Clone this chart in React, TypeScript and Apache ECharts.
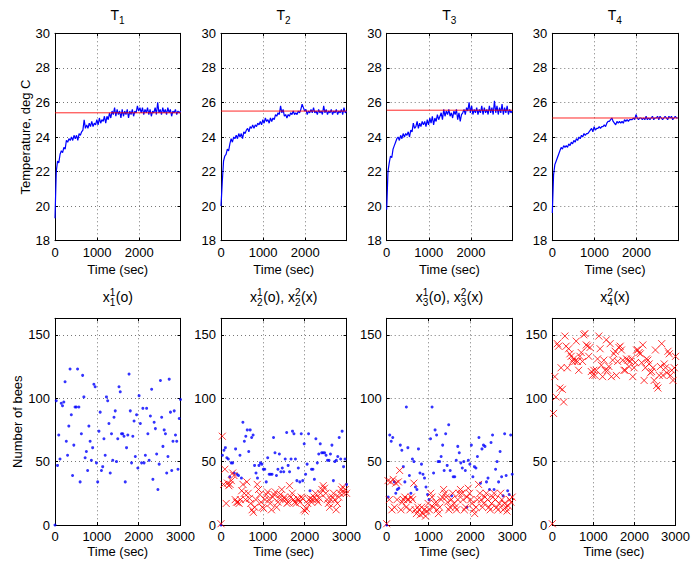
import React, { useEffect, useRef } from 'react';
import * as echarts from 'echarts';

const FONT = "'Liberation Sans', Arial, Helvetica, sans-serif";

// ---------- axes ----------
const TEMP_X_MAX = 2980;
const TEMP_Y_MIN = 18;
const TEMP_Y_MAX = 30;
const TEMP_Y_STEP = 2;
const BEES_X_MAX = 3000;
const BEES_Y_MAX = 163;
const BEES_Y_STEP = 50;
const X_STEP = 1000;

const X_NAME = 'Time (sec)';
const TEMP_Y_NAME = 'Temperature, deg C';
const BEES_Y_NAME = 'Number of bees';

// ---------- temperature (top row), samples evenly spaced over [0, TEMP_X_MAX] ----------
const SETPOINTS = [25.4, 25.5, 25.55, 25.1];

const T1 = [
  19.3, 22.0, 22.6, 22.5, 23.0, 23.2, 23.1, 23.4, 23.3, 23.8,
  23.7, 23.9, 23.8, 24.0, 23.8, 24.1, 23.9, 24.1, 23.8, 24.2,
  24.1, 24.3, 24.4, 25.0, 24.5, 24.7, 24.5, 24.8, 24.6, 24.9,
  24.6, 24.8, 24.7, 25.0, 24.7, 25.1, 24.8, 25.0, 24.9, 25.2,
  24.8, 25.2, 25.0, 25.4, 25.1, 25.5, 25.3, 25.7, 25.2, 25.6,
  25.3, 25.5, 25.1, 25.6, 25.2, 25.5, 25.3, 25.6, 25.1, 25.5,
  25.3, 25.6, 25.2, 25.5, 25.4, 25.8, 25.5, 25.7, 25.4, 25.7,
  25.3, 25.6, 25.4, 25.7, 25.3, 25.6, 25.2, 25.5, 25.4, 25.7,
  25.3, 26.0, 25.4, 25.6, 25.3, 25.7, 25.4, 25.6, 25.3, 25.7,
  25.4, 25.6, 25.2, 25.5, 25.4, 25.6, 25.3, 25.5, 25.4, 25.5,
];
const T2 = [
  20.0, 21.4, 22.6, 22.9, 23.0, 23.3, 23.2, 23.6, 23.9, 23.7,
  24.0, 23.9, 24.1, 23.9, 24.2, 24.0, 24.2, 23.9, 24.3, 24.2,
  24.4, 24.5, 24.3, 24.6, 24.5, 24.7, 24.5, 24.7, 24.6, 24.8,
  24.7, 24.9, 24.7, 25.0, 24.8, 25.1, 24.9, 25.0, 24.8, 25.1,
  24.9, 25.1, 25.0, 25.3, 25.2, 25.4, 25.3, 25.8, 25.4, 25.6,
  25.2, 25.3, 25.1, 25.3, 25.2, 25.4, 25.3, 25.5, 25.3, 25.4,
  25.3, 25.5, 25.4, 25.6, 25.9, 25.7, 25.5, 25.6, 25.3, 25.5,
  25.4, 25.6, 25.4, 25.7, 25.4, 25.5, 25.3, 25.6, 25.4, 25.5,
  25.3, 25.8, 25.4, 25.6, 25.3, 25.5, 25.4, 25.6, 25.3, 25.5,
  25.4, 25.6, 25.3, 25.5, 25.4, 25.6, 25.3, 25.7, 25.4, 25.5,
];
const T3 = [
  19.8, 22.0, 22.5, 22.9, 22.8, 23.3, 23.5, 23.7, 23.9, 24.0,
  23.8, 24.1, 23.9, 24.2, 24.0, 24.2, 24.1, 24.3, 24.0, 24.4,
  24.3, 24.8, 24.5, 24.6, 24.9, 24.5, 24.8, 24.6, 24.9, 24.7,
  24.9, 24.6, 25.0, 24.7, 25.1, 24.8, 25.2, 24.7, 25.1, 24.9,
  25.3, 25.0, 25.2, 25.4, 25.0, 25.6, 25.2, 25.5, 25.3, 25.6,
  25.2, 25.4, 25.1, 25.5, 25.3, 25.6, 25.0, 25.4, 24.9, 25.3,
  25.4, 25.6, 25.3, 25.7, 25.5, 26.0, 25.4, 25.8, 25.3, 25.6,
  25.4, 25.7, 25.3, 25.6, 25.4, 25.8, 25.3, 25.7, 25.4, 25.6,
  25.3, 25.8, 25.4, 25.7, 25.3, 26.1, 25.4, 25.8, 25.3, 25.7,
  25.4, 25.9, 25.3, 25.7, 25.4, 25.8, 25.3, 25.6, 25.4, 25.5,
];
const T4 = [
  19.6, 21.8, 22.4, 22.6, 22.8, 23.0, 23.2, 23.4, 23.3, 23.5,
  23.4, 23.5, 23.4, 23.6, 23.5, 23.7, 23.6, 23.8, 23.7, 23.9,
  23.8, 24.0, 23.9, 24.1, 24.0, 24.2, 24.1, 24.2, 24.2, 24.3,
  24.4, 24.5, 24.3, 24.6, 24.4, 24.5, 24.5, 24.6, 24.5, 24.6,
  24.6, 24.7, 24.6, 24.8, 24.9, 24.9, 25.0, 25.1, 24.9, 24.8,
  24.7, 24.9, 24.8, 24.9, 24.8, 24.9, 24.8, 25.0, 24.9, 25.0,
  24.9, 25.0, 25.0, 25.0, 25.1, 25.0, 25.3, 25.1, 25.0, 25.1,
  25.1, 25.0, 25.1, 25.0, 25.2, 25.0, 25.1, 25.0, 25.1, 25.2,
  25.0, 25.1, 25.1, 25.2, 25.0, 25.2, 25.1, 25.0, 25.1, 25.2,
  25.1, 25.0, 25.2, 25.1, 25.2, 25.0, 25.1, 25.2, 25.1, 25.1,
];

// ---------- bee counts (bottom row), samples evenly spaced over [0, BEES_X_MAX] ----------
// x_k^1 : blue dots (o), x_k^2 : red crosses (x)
const X1_1 = [
  0, 98, 47, 71, 52, 96, 94, 97, 113, 66,
  55, 78, 123, 87, 39, 63, 93, 93, 123, 93,
  34, 72, 118, 101, 53, 58, 43, 78, 66, 51,
  61, 111, 109, 49, 34, 74, 89, 43, 46, 68,
  55, 101, 98, 80, 41, 72, 51, 85, 90, 50,
  68, 109, 105, 72, 72, 70, 34, 61, 71, 119,
  90, 49, 70, 82, 54, 87, 45, 102, 80, 49,
  92, 49, 55, 92, 72, 51, 86, 107, 36, 81,
  76, 56, 28, 48, 114, 85, 62, 75, 72, 41,
  54, 115, 89, 43, 66, 90, 71, 66, 44, 84, 99,
];
const X2_1 = [
  0, 55, 59, 61, 53, 52, 38, 49, 49, 41,
  60, 40, 39, 55, 37, 81, 66, 70, 75, 58,
  75, 69, 71, 47, 41, 37, 47, 49, 48, 44,
  44, 34, 53, 40, 40, 40, 69, 57, 39, 44,
  56, 42, 45, 42, 52, 73, 47, 42, 52, 74,
  72, 52, 35, 45, 34, 72, 35, 64, 40, 48,
  72, 27, 44, 44, 36, 68, 49, 56, 64, 57,
  57, 57, 55, 51, 51, 56, 63, 35, 50, 51,
  54, 69, 52, 74, 46, 52, 32,
];
const X2_2 = [
  1, 70, 32, 44, 17, 33, 31, 32, 35, 41,
  39, 20, 18, 18, 17, 20, 27, 32, 25, 20,
  34, 25, 21, 17, 12, 10, 14, 20, 32, 28,
  24, 18, 14, 13, 20, 24, 26, 20, 17, 12,
  22, 24, 26, 14, 18, 21, 24, 28, 20, 22,
  20, 17, 18, 31, 22, 25, 20, 18, 17, 21,
  20, 18, 22, 21, 12, 11, 13, 17, 20, 21,
  18, 20, 22, 25, 20, 18, 21, 25, 28, 31,
  29, 25, 20, 17, 14, 20, 22, 25, 20, 12,
  17, 22, 25, 28, 30, 25, 28, 25,
];
const X3_1 = [
  0, 22, 71, 66, 69, 34, 25, 28, 29, 63,
  59, 46, 34, 93, 61, 39, 25, 52, 50, 30,
  28, 60, 41, 48, 40, 37, 30, 24, 20, 68,
  93, 41, 75, 71, 50, 50, 54, 63, 43, 72,
  47, 79, 43, 23, 38, 38, 51, 62, 57, 49,
  45, 50, 43, 14, 51, 48, 63, 38, 46, 45,
  54, 69, 33, 60, 63, 62, 34, 37, 28, 65,
  71, 28, 44, 50, 34, 58, 38, 23, 72, 39,
  27, 24, 71, 40,
];
const X3_2 = [
  1, 35, 20, 34, 12, 36, 14, 33, 20, 34,
  43, 12, 18, 20, 22, 14, 20, 20, 12, 22,
  20, 33, 12, 9, 14, 12, 8, 14, 9, 12,
  7, 11, 17, 12, 25, 22, 14, 17, 18, 12,
  9, 14, 20, 22, 28, 25, 22, 18, 12, 14,
  20, 25, 17, 14, 12, 20, 25, 28, 25, 20,
  12, 14, 22, 29, 25, 20, 17, 12, 9, 14,
  20, 32, 25, 20, 14, 17, 22, 25, 20, 14,
  12, 17, 22, 25, 20, 14, 12, 17, 25, 20,
  12, 17, 14, 11, 15, 20, 18, 22,
];
const X4_2 = [
  1, 88, 117, 101, 143, 141, 108, 124, 107, 97,
  149, 141, 124, 139, 135, 133, 129, 131, 129, 145,
  129, 122, 133, 136, 129, 150, 151, 142, 141, 133,
  140, 121, 118, 122, 118, 122, 131, 149, 139, 126,
  117, 130, 122, 146, 122, 125, 143, 117, 130, 135,
  137, 118, 129, 140, 141, 138, 130, 122, 122, 131,
  130, 125, 129, 131, 117, 124, 128, 138, 138, 136,
  135, 128, 142, 114, 124, 131, 130, 127, 120, 121,
  124, 114, 138, 110, 108, 118, 125, 143, 118, 127,
  124, 120, 137, 135, 118, 122, 114, 124, 133,
];

// ---------- titles ----------
type Tok = { main?: string; sup?: string; sub?: string };
const TOP_TITLES: Tok[][] = [
  [{ main: 'T' }, { sub: '1' }],
  [{ main: 'T' }, { sub: '2' }],
  [{ main: 'T' }, { sub: '3' }],
  [{ main: 'T' }, { sub: '4' }],
];
const BOTTOM_TITLES: Tok[][] = [
  [{ main: 'x' }, { sup: '1', sub: '1' }, { main: '(o)' }],
  [{ main: 'x' }, { sup: '1', sub: '2' }, { main: '(o), x' }, { sup: '2', sub: '2' }, { main: '(x)' }],
  [{ main: 'x' }, { sup: '1', sub: '3' }, { main: '(o), x' }, { sup: '2', sub: '3' }, { main: '(x)' }],
  [{ main: 'x' }, { sup: '2', sub: '4' }, { main: '(x)' }],
];

// ---------- layout ----------
const LEFTS = [55, 221, 386.7, 552.3];
const PLOT_W = 125.5;
const ROWS = [
  { top: 33.3, height: 207.4, titleY: 15, subDy: 5.5, supDy: 0 },
  { top: 318.3, height: 206.7, titleY: 297, subDy: 5, supDy: -4.8 },
];
const MAIN_FS = 14;
const SCRIPT_FS = 10;

const BLUE = '#0000ff';
const RED = '#ff0000';
const CROSS = 'path://M0,0L10,10M0,10L10,0';

function withTimes(values: number[], tMax: number) {
  const dt = tMax / (values.length - 1);
  return values.map((v, i) => [i * dt, v]);
}

let measureCtx: CanvasRenderingContext2D | null = null;
function textWidth(s: string, size: number) {
  if (!measureCtx) measureCtx = document.createElement('canvas').getContext('2d');
  if (!measureCtx) return s.length * size * 0.55;
  measureCtx.font = `${size}px 'Liberation Sans', Arial, sans-serif`;
  return measureCtx.measureText(s).width;
}

function titleGroup(tokens: Tok[], cx: number, row: typeof ROWS[number]) {
  const widths = tokens.map((t) =>
    t.main !== undefined
      ? textWidth(t.main, MAIN_FS)
      : Math.max(textWidth(t.sup || '', SCRIPT_FS), textWidth(t.sub || '', SCRIPT_FS)) + 0.5,
  );
  const total = widths.reduce((a, b) => a + b, 0);
  let x = cx - total / 2;
  const children: any[] = [];
  tokens.forEach((t, i) => {
    const mk = (text: string, y: number, fs: number) => ({
      type: 'text',
      x,
      y,
      silent: true,
      style: { text, fill: '#000', fontSize: fs, fontFamily: FONT, align: 'left', verticalAlign: 'middle' },
    });
    if (t.main !== undefined) children.push(mk(t.main, row.titleY, MAIN_FS));
    if (t.sup) children.push(mk(t.sup, row.titleY + row.supDy, SCRIPT_FS));
    if (t.sub) children.push(mk(t.sub, row.titleY + row.subDy, SCRIPT_FS));
    x += widths[i];
  });
  return { type: 'group', children };
}

function buildOption() {
  const grids: any[] = [];
  const xAxes: any[] = [];
  const yAxes: any[] = [];
  const series: any[] = [];
  const graphics: any[] = [];
  const labelStyle = { color: '#000', fontSize: 13, fontFamily: FONT };
  const lineBlack = { color: '#000', width: 1 };
  const grid = { show: true, lineStyle: { color: '#777', type: [1, 3], width: 1 } };

  for (let i = 0; i < 8; i++) {
    const r = i < 4 ? 0 : 1;
    const c = i % 4;
    const row = ROWS[r];
    grids.push({ left: LEFTS[c], top: row.top, width: PLOT_W, height: row.height, containLabel: false });
    const xMax = r === 0 ? TEMP_X_MAX : BEES_X_MAX;
    const yMin = r === 0 ? TEMP_Y_MIN : 0;
    const yMax = r === 0 ? TEMP_Y_MAX : BEES_Y_MAX;
    const yStep = r === 0 ? TEMP_Y_STEP : BEES_Y_STEP;

    xAxes.push({
      type: 'value', gridIndex: i, min: 0, max: xMax, interval: X_STEP, position: 'bottom',
      axisLine: { show: true, onZero: false, lineStyle: lineBlack },
      axisTick: { show: true, inside: true, length: 3, lineStyle: lineBlack },
      axisLabel: { ...labelStyle, margin: 5, formatter: (v: number) => (v % X_STEP === 0 ? String(v) : '') },
      splitLine: grid,
      name: X_NAME, nameLocation: 'middle', nameGap: r === 0 ? 22 : 20,
      nameTextStyle: labelStyle,
    });
    xAxes.push({
      type: 'value', gridIndex: i, min: 0, max: xMax, interval: X_STEP, position: 'top',
      axisLine: { show: true, onZero: false, lineStyle: lineBlack },
      axisTick: { show: true, inside: true, length: 3, lineStyle: lineBlack },
      axisLabel: { show: false },
      splitLine: { show: false },
    });
    yAxes.push({
      type: 'value', gridIndex: i, min: yMin, max: yMax, interval: yStep, position: 'left',
      axisLine: { show: true, onZero: false, lineStyle: lineBlack },
      axisTick: { show: true, inside: true, length: 3, lineStyle: lineBlack },
      axisLabel: { ...labelStyle, margin: 5, formatter: (v: number) => ((v - yMin) % yStep === 0 ? String(v) : '') },
      splitLine: grid,
      name: c === 0 ? (r === 0 ? TEMP_Y_NAME : BEES_Y_NAME) : '',
      nameLocation: 'middle', nameGap: r === 0 ? 23 : 31,
      nameTextStyle: labelStyle,
    });
    yAxes.push({
      type: 'value', gridIndex: i, min: yMin, max: yMax, interval: yStep, position: 'right',
      axisLine: { show: true, onZero: false, lineStyle: lineBlack },
      axisTick: { show: true, inside: true, length: 3, lineStyle: lineBlack },
      axisLabel: { show: false },
      splitLine: { show: false },
    });

    const cx = LEFTS[c] + PLOT_W / 2;
    graphics.push(titleGroup(r === 0 ? TOP_TITLES[c] : BOTTOM_TITLES[c], cx, row));
  }

  const temps = [T1, T2, T3, T4];
  temps.forEach((t, c) => {
    series.push({
      type: 'line', xAxisIndex: 2 * c, yAxisIndex: 2 * c, data: withTimes(t, TEMP_X_MAX),
      showSymbol: false, symbol: 'none', lineStyle: { color: BLUE, width: 1.2 }, z: 2, silent: true,
    });
    series.push({
      type: 'line', xAxisIndex: 2 * c, yAxisIndex: 2 * c,
      data: [[0, SETPOINTS[c]], [TEMP_X_MAX, SETPOINTS[c]]],
      showSymbol: false, symbol: 'none', lineStyle: { color: RED, width: 1, opacity: 0.85 }, z: 3, silent: true,
    });
  });

  const dots = (g: number, vals: number[]) => ({
    type: 'scatter', xAxisIndex: 2 * g, yAxisIndex: 2 * g, data: withTimes(vals, BEES_X_MAX),
    symbol: 'circle', symbolSize: 3, itemStyle: { color: BLUE }, z: 2, silent: true,
  });
  const crosses = (g: number, vals: number[]) => ({
    type: 'scatter', xAxisIndex: 2 * g, yAxisIndex: 2 * g, data: withTimes(vals, BEES_X_MAX),
    symbol: CROSS, symbolSize: 7,
    itemStyle: { color: 'transparent', borderColor: RED, borderWidth: 1 }, z: 3, silent: true,
  });
  series.push(dots(4, X1_1));
  series.push(dots(5, X2_1));
  series.push(crosses(5, X2_2));
  series.push(dots(6, X3_1));
  series.push(crosses(6, X3_2));
  series.push(crosses(7, X4_2));

  return {
    animation: false,
    backgroundColor: '#ffffff',
    textStyle: { fontFamily: FONT },
    grid: grids,
    xAxis: xAxes,
    yAxis: yAxes,
    series,
    graphic: graphics,
  };
}

export default function App() {
  const ref = useRef<HTMLDivElement>(null);
  useEffect(() => {
    if (!ref.current) return;
    const chart = echarts.init(ref.current, undefined, { renderer: 'svg' });
    chart.setOption(buildOption() as any);
    return () => chart.dispose();
  }, []);
  return (
    <div
      ref={ref}
      style={{ position: 'fixed', left: 0, top: 0, width: 693, height: 564, background: '#fff' }}
    />
  );
}
